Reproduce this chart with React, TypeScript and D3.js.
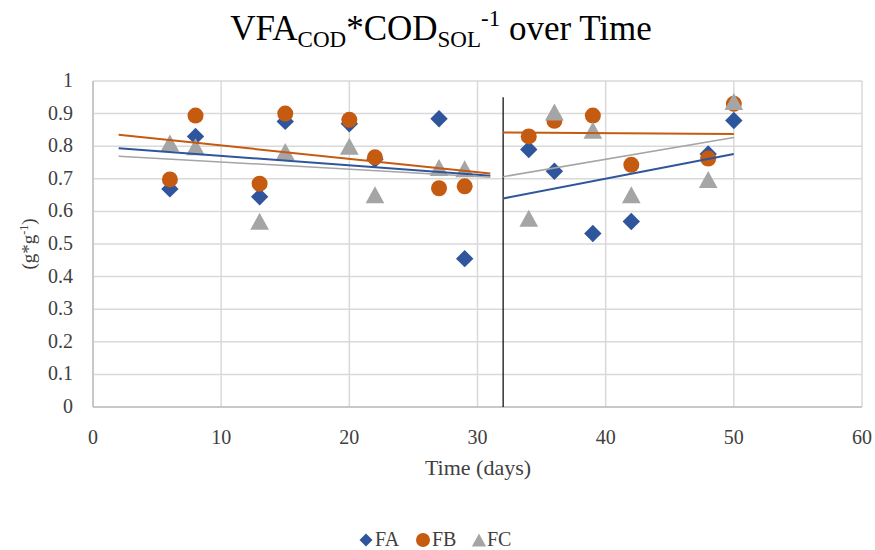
import React from 'react';
import * as d3 from 'd3';

// sampling days and measured ratios
const days = [6, 8, 13, 15, 20, 22, 27, 29, 34, 36, 39, 42, 48, 50];
const faValues = [0.669, 0.83, 0.645, 0.876, 0.869, 0.76, 0.884, 0.455, 0.79, 0.723, 0.532, 0.569, 0.776, 0.879];
const fbValues = [0.698, 0.894, 0.685, 0.9, 0.881, 0.766, 0.671, 0.677, 0.83, 0.878, 0.894, 0.743, 0.762, 0.93];
const fcValues = [0.81, 0.798, 0.57, 0.784, 0.8, 0.651, 0.735, 0.731, 0.579, 0.905, 0.849, 0.651, 0.698, 0.937];

// two phases, each with its own linear trendline (drawn over these day ranges)
const phases = [
  { from: 2, to: 31, minDay: 0, maxDay: 31 },
  { from: 32, to: 50, minDay: 32, maxDay: 60 },
];
const dividerDay = 32;
const dividerTop = 0.95;

const xTicks = [0, 10, 20, 30, 40, 50, 60];
const yTicks = [0, 0.1, 0.2, 0.3, 0.4, 0.5, 0.6, 0.7, 0.8, 0.9, 1];

const series = [
  { name: 'FA', values: faValues, color: '#2F569C', shape: 'diamond', lineWidth: 2 },
  { name: 'FB', values: fbValues, color: '#C55A11', shape: 'circle', lineWidth: 2 },
  { name: 'FC', values: fcValues, color: '#A5A5A5', shape: 'triangle', lineWidth: 1.5 },
];

const W = 875;
const H = 550;
const margin = { top: 81, right: 13, bottom: 143, left: 93 };
const FONT = '"Liberation Serif", "DejaVu Serif", serif';

function markerPath(shape: string, r: number) {
  if (shape === 'diamond') return `M0,${-r}L${r},0L0,${r}L${-r},0Z`;
  if (shape === 'triangle') return `M0,${-r}L${r * 1.1},${r}L${-r * 1.1},${r}Z`;
  return d3.symbol(d3.symbolCircle, Math.PI * r * r)() || '';
}

function fitLine(xs: number[], ys: number[]) {
  const mx = d3.mean(xs) as number;
  const my = d3.mean(ys) as number;
  const sxy = d3.sum(xs, (x, i) => (x - mx) * (ys[i] - my));
  const sxx = d3.sum(xs, (x) => (x - mx) * (x - mx));
  const slope = sxy / sxx;
  return (x: number) => my + slope * (x - mx);
}

export default function App() {
  const iw = W - margin.left - margin.right;
  const ih = H - margin.top - margin.bottom;
  const x = d3.scaleLinear().domain([0, 60]).range([margin.left, margin.left + iw]);
  const y = d3.scaleLinear().domain([0, 1]).range([margin.top + ih, margin.top]);

  const trendLines = series.flatMap((s) =>
    phases.map((p, pi) => {
      const idx = days.map((d, i) => i).filter((i) => days[i] >= p.minDay && days[i] <= p.maxDay);
      const f = fitLine(idx.map((i) => days[i]), idx.map((i) => s.values[i]));
      return { key: `${s.name}-${pi}`, color: s.color, width: s.lineWidth, x1: p.from, y1: f(p.from), x2: p.to, y2: f(p.to) };
    })
  );

  const legendItems = [
    { x: 366, textX: 375 },
    { x: 423, textX: 432 },
    { x: 479, textX: 487 },
  ];

  return (
    <svg width={W} height={H} style={{ position: 'absolute', left: 0, top: 0, background: '#fff' }} fontFamily={FONT}>
      <rect width={W} height={H} fill="#fff" />
      {/* title */}
      <text x={441} y={40} textAnchor="middle" fontSize={35} fill="#000">
        VFA<tspan fontSize={23} dy={7}>COD</tspan>
        <tspan dy={-7}>*COD</tspan>
        <tspan fontSize={23} dy={7}>SOL</tspan>
        <tspan fontSize={23} dy={-21}>-1</tspan>
        <tspan dy={14}> over Time</tspan>
      </text>

      {/* grid */}
      {yTicks.map((t) => (
        <line key={'gy' + t} x1={x(0)} x2={x(60)} y1={y(t)} y2={y(t)} stroke="#D9D9D9" strokeWidth={1.5} />
      ))}
      {xTicks.map((t) => (
        <line key={'gx' + t} x1={x(t)} x2={x(t)} y1={y(0)} y2={y(1)} stroke="#D9D9D9" strokeWidth={1.5} />
      ))}
      <line x1={x(0)} x2={x(0)} y1={y(0)} y2={y(1)} stroke="#BFBFBF" strokeWidth={1.5} />
      <line x1={x(0)} x2={x(60)} y1={y(0)} y2={y(0)} stroke="#BFBFBF" strokeWidth={1.5} />

      {/* tick labels */}
      {yTicks.map((t) => (
        <text key={'ty' + t} x={73} y={y(t) + 6} textAnchor="end" fontSize={20} fill="#404040">
          {d3.format('~g')(t)}
        </text>
      ))}
      {xTicks.map((t) => (
        <text key={'tx' + t} x={x(t)} y={444} textAnchor="middle" fontSize={20} fill="#404040">
          {t}
        </text>
      ))}

      {/* axis titles */}
      <text x={478} y={475} textAnchor="middle" fontSize={22} fill="#404040">Time (days)</text>
      <text transform={`translate(35,${y(0.5)}) rotate(-90)`} textAnchor="middle" fontSize={19} fill="#404040">
        (g*g<tspan fontSize={12} dy={-7}>-1</tspan>
        <tspan dy={7}>)</tspan>
      </text>

      {/* phase divider */}
      <line x1={x(dividerDay)} x2={x(dividerDay)} y1={y(0)} y2={y(dividerTop)} stroke="#000" strokeWidth={1.2} />

      {/* markers */}
      {series.map((s) => (
        <g key={s.name} fill={s.color}>
          {days.map((d, i) => (
            <path key={i} d={markerPath(s.shape, s.shape === 'circle' ? 8 : s.shape === 'triangle' ? 8.5 : 8.7)} transform={`translate(${x(d)},${y(s.values[i])})`} />
          ))}
        </g>
      ))}

      {/* trendlines */}
      {trendLines.map((l) => (
        <line key={l.key} x1={x(l.x1)} y1={y(l.y1)} x2={x(l.x2)} y2={y(l.y2)} stroke={l.color} strokeWidth={l.width} />
      ))}

      {/* legend */}
      {series.map((s, i) => (
        <g key={'lg' + s.name}>
          <path d={markerPath(s.shape, s.shape === 'circle' ? 7 : 6.5)} transform={`translate(${legendItems[i].x},540)`} fill={s.color} />
          <text x={legendItems[i].textX} y={546} fontSize={20} fill="#404040">{s.name}</text>
        </g>
      ))}
    </svg>
  );
}
